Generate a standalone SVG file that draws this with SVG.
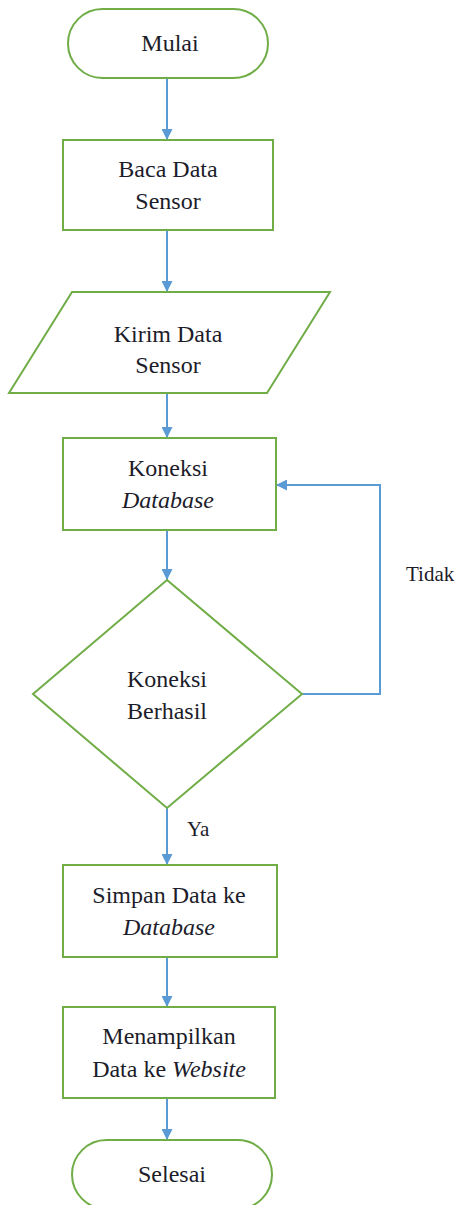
<svg xmlns="http://www.w3.org/2000/svg" width="457" height="1205" viewBox="0 0 457 1205">
<style>
.node{fill:#fff;stroke:#70ad47;stroke-width:2}
.t{font-family:'Liberation Serif','Times New Roman',serif;font-size:24px;fill:#1c1c2a;text-anchor:middle}
.lbl{font-family:'Liberation Serif','Times New Roman',serif;font-size:21px;fill:#1c1c2a}
.i{font-style:italic}
.c{fill:none;stroke:#5b9bd5;stroke-width:2;marker-end:url(#ah)}
</style>
<defs>
<marker id="ah" markerUnits="userSpaceOnUse" markerWidth="11" markerHeight="11" refX="10" refY="5" orient="auto" viewBox="0 0 10 10">
<path d="M0,0 L10,5 L0,10 z" fill="#5b9bd5"/>
</marker>
</defs>
<rect width="457" height="1205" fill="#fff"/>
<g id="connectors">
<path class="c" d="M167,78 V140"/>
<path class="c" d="M167,230 V292"/>
<path class="c" d="M167,393 V438"/>
<path class="c" d="M167,530 V580"/>
<path class="c" d="M302,694 H380 V485 H276"/>
<path class="c" d="M167,808 V865"/>
<path class="c" d="M167,957 V1007"/>
<path class="c" d="M167,1098 V1140"/>
<text class="lbl" x="406" y="581">Tidak</text>
<text class="lbl" x="187" y="836">Ya</text>
</g>
<g id="mulai">
<rect class="node" x="68" y="9" width="200" height="69" rx="34.5"/>
<text class="t" x="170" y="51">Mulai</text>
</g>
<g id="baca">
<rect class="node" x="63" y="140" width="210" height="90"/>
<text class="t" x="168" y="177">Baca Data</text>
<text class="t" x="168" y="209">Sensor</text>
</g>
<g id="kirim">
<polygon class="node" points="72,292 330,292 267,393 9,393"/>
<text class="t" x="168" y="342">Kirim Data</text>
<text class="t" x="168" y="373">Sensor</text>
</g>
<g id="koneksi">
<rect class="node" x="63" y="438" width="213" height="92"/>
<text class="t" x="168" y="476">Koneksi</text>
<text class="t i" x="168" y="508">Database</text>
</g>
<g id="decision">
<polygon class="node" points="167,580 302,694 167,808 33,694"/>
<text class="t" x="167" y="687">Koneksi</text>
<text class="t" x="167" y="719">Berhasil</text>
</g>
<g id="simpan">
<rect class="node" x="63" y="865" width="214" height="92"/>
<text class="t" x="169" y="903">Simpan Data ke</text>
<text class="t i" x="169" y="935">Database</text>
</g>
<g id="menampilkan">
<rect class="node" x="63" y="1007" width="212" height="91"/>
<text class="t" x="169" y="1044">Menampilkan</text>
<text class="t" x="169" y="1077">Data ke <tspan class="i">Website</tspan></text>
</g>
<g id="selesai">
<rect class="node" x="72" y="1140" width="200" height="69" rx="34.5"/>
<text class="t" x="172" y="1182">Selesai</text>
</g>
</svg>
